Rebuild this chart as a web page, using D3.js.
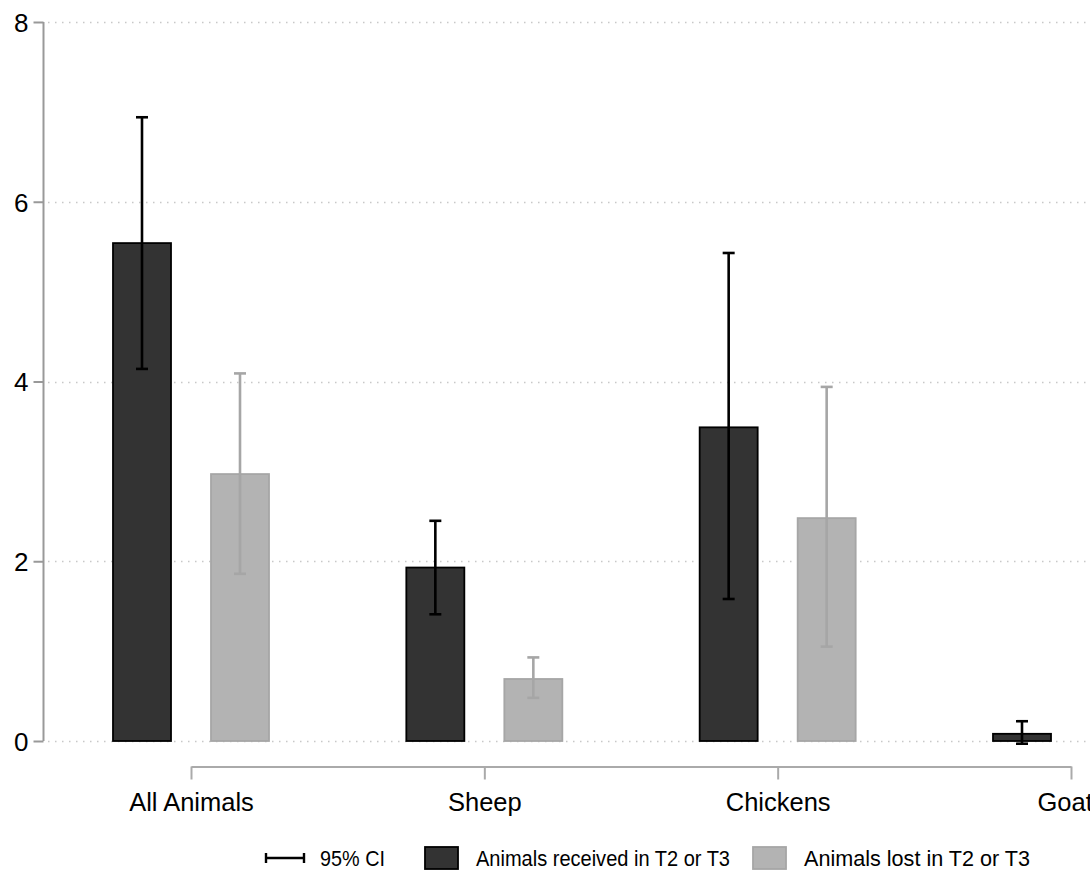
<!DOCTYPE html>
<html><head><meta charset="utf-8">
<script src="https://cdn.jsdelivr.net/npm/d3@7"></script>
<style>body{margin:0;background:#fff}svg{display:block}</style>
</head><body><svg id="c" width="1090" height="870"></svg>
<script>
const categories = ["All Animals", "Sheep", "Chickens", "Goats"];
const series = ["Animals received in T2 or T3", "Animals lost in T2 or T3"];
const receivedMean = [5.54, 1.93, 3.49, 0.08];
const receivedLo = [4.14, 1.41, 1.58, -0.03];
const receivedHi = [6.94, 2.45, 5.43, 0.22];
const lostMean = [2.97, 0.69, 2.48, null];
const lostLo = [1.86, 0.48, 1.05, null];
const lostHi = [4.09, 0.93, 3.94, null];
const yTicks = [0, 2, 4, 6, 8];
const ciLabel = "95% CI";

const svg = d3.select("#c");
const font = "'Liberation Sans', Arial, sans-serif";

const y = d3.scaleLinear().domain([0, 8]).range([741, 22]);
const x = d3.scalePoint().domain(categories).range([191, 1071]);
const xo = d3.scalePoint().domain(series).range([-49, 49]);
const bw = 58;
const fills = ["#333333", "#b3b3b3"];
const strokes = ["#000000", "#a6a6a6"];
const ciCol = ["#000000", "#a6a6a6"];

const data = [];
categories.forEach((c, i) => {
  data.push({c, s: series[0], k: 0, v: receivedMean[i], lo: receivedLo[i], hi: receivedHi[i]});
  if (lostMean[i] != null) data.push({c, s: series[1], k: 1, v: lostMean[i], lo: lostLo[i], hi: lostHi[i]});
});

// gridlines
svg.append("g").selectAll("line").data(yTicks).join("line")
  .attr("x1", 48).attr("x2", 1090)
  .attr("y1", d => Math.round(y(d)) + 0.5).attr("y2", d => Math.round(y(d)) + 0.5)
  .attr("stroke", "#c8c8c8").attr("stroke-width", 1.5).attr("stroke-dasharray", "1.5,5.5");

// y axis
const ya = svg.append("g").attr("transform", "translate(43.5,0)")
  .call(d3.axisLeft(y).tickValues(yTicks).tickSize(10).tickPadding(5).tickFormat(d3.format("d")));
ya.select(".domain").attr("stroke", "#999").attr("stroke-width", 2).attr("d", `M0,${y(8)}V${y(0)}`);
ya.selectAll(".tick line").attr("stroke", "#999").attr("stroke-width", 2);
ya.selectAll(".tick text").attr("font-family", font).attr("font-size", 26).attr("fill", "#000").attr("dy", "0.36em");

// x axis
const xa = svg.append("g").attr("transform", "translate(0,766.5)")
  .call(d3.axisBottom(x).tickSize(13).tickPadding(13).tickSizeOuter(0));
xa.select(".domain").attr("stroke", "#aaa").attr("stroke-width", 2);
xa.selectAll(".tick line").attr("stroke", "#aaa").attr("stroke-width", 2);
xa.selectAll(".tick text").attr("font-family", font).attr("font-size", 25.5).attr("fill", "#000");

// bars
svg.append("g").selectAll("rect").data(data).join("rect")
  .attr("x", d => x(d.c) + xo(d.s) - bw / 2)
  .attr("width", bw)
  .attr("y", d => Math.min(y(d.v), y(0)))
  .attr("height", d => Math.abs(y(0) - y(d.v)))
  .attr("fill", d => fills[d.k]).attr("stroke", d => strokes[d.k]).attr("stroke-width", 1.8);

// CIs
const ci = svg.append("g");
data.forEach(d => {
  const cx = x(d.c) + xo(d.s);
  const col = ciCol[d.k];
  ci.append("line").attr("x1", cx).attr("x2", cx).attr("y1", y(d.lo)).attr("y2", y(d.hi))
    .attr("stroke", col).attr("stroke-width", 2.6);
  [d.lo, d.hi].forEach(v => ci.append("line").attr("x1", cx - 6).attr("x2", cx + 6)
    .attr("y1", y(v)).attr("y2", y(v)).attr("stroke", col).attr("stroke-width", 2.6));
});

// legend
const lg = svg.append("g");
const ly = 858;
lg.append("line").attr("x1", 266).attr("x2", 304).attr("y1", ly).attr("y2", ly).attr("stroke", "#000").attr("stroke-width", 2.4);
[266, 304].forEach(xx => lg.append("line").attr("x1", xx).attr("x2", xx).attr("y1", ly - 5).attr("y2", ly + 5).attr("stroke", "#000").attr("stroke-width", 2.4));
const lt = (x0, w, s) => lg.append("text").attr("x", x0).attr("y", ly + 8).attr("font-family", font)
  .attr("font-size", 22).attr("textLength", w).attr("lengthAdjust", "spacingAndGlyphs").text(s);
lt(320, 65, ciLabel);
const boxes = [{x: 425, tx: 476, w: 254}, {x: 753, tx: 804, w: 226}];
series.forEach((s, i) => {
  lg.append("rect").attr("x", boxes[i].x).attr("y", 847).attr("width", 33).attr("height", 22)
    .attr("fill", fills[i]).attr("stroke", strokes[i]).attr("stroke-width", 1.8);
  lt(boxes[i].tx, boxes[i].w, s);
});
</script></body></html>
